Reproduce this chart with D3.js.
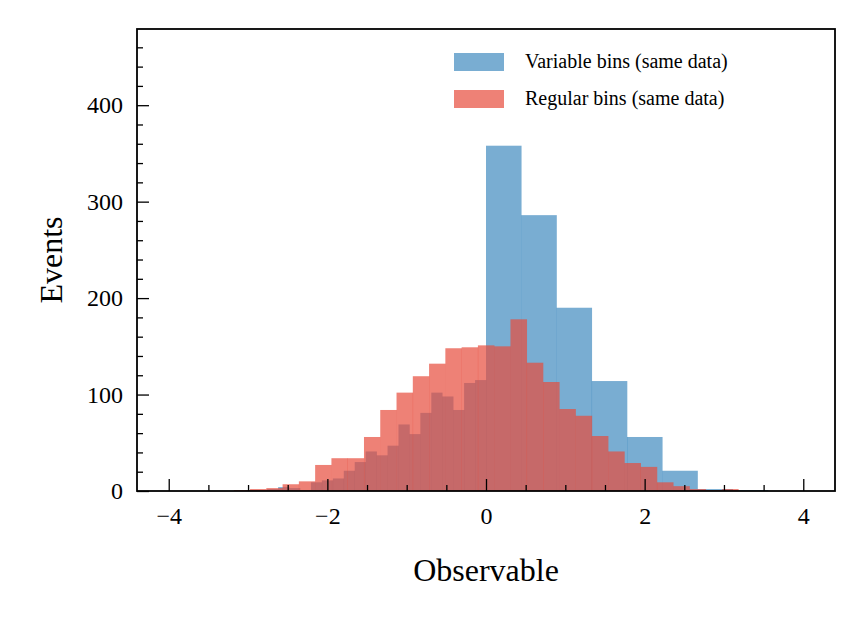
<!DOCTYPE html>
<html>
<head>
<meta charset="utf-8">
<script src="https://cdn.jsdelivr.net/npm/d3@7"></script>
<style>
  body { margin: 0; background: #fff; }
  text { font-family: "Liberation Serif", "DejaVu Serif", serif; fill: #000; }
</style>
</head>
<body>
<svg id="chart" width="864" height="619"></svg>
<script>
// Variable bins: 29 narrow bins on [-4, 0], 9 wide bins on [0, 4]
const variableEdges = [
  ...d3.range(30).map(i => -4 + i * 4 / 29),
  ...d3.range(1, 10).map(i => i * 4 / 9)
];
const variableCounts = [
  0, 0, 0, 0, 0, 0, 0, 1, 1, 2, 4, 3, 1, 9, 11, 13, 21, 30, 41, 37,
  47, 69, 59, 81, 102, 98, 84, 112, 115,
  358, 286, 190, 114, 56, 21, 2, 1, 0
];

// Regular bins: 31 bins of equal width
const regularStart = -3.18;
const regularWidth = 0.2052;
const regularCounts = [
  1, 2, 3, 7, 10, 27, 34, 34, 56, 84, 102, 119, 132, 148, 149, 151,
  150, 178, 133, 113, 85, 78, 57, 41, 29, 25, 9, 5, 2, 1, 2
];

const seriesLabels = ["Variable bins (same data)", "Regular bins (same data)"];
const xTicks = [-4, -2, 0, 2, 4];
const yTicks = [0, 100, 200, 300, 400];

const svg = d3.select("#chart");
const margin = { left: 137, right: 29, top: 29, bottom: 128 };
const width = 864 - margin.left - margin.right;
const height = 619 - margin.top - margin.bottom;
const g = svg.append("g").attr("transform", `translate(${margin.left},${margin.top})`);

const x = d3.scaleLinear().domain([-4.4, 4.4]).range([0, width]);
const y = d3.scaleLinear().domain([0, 479]).range([height, 0]);

const blueBins = variableCounts.map((c, i) => ({ x0: variableEdges[i], x1: variableEdges[i + 1], c }));
const redBins = regularCounts.map((c, i) => ({
  x0: regularStart + i * regularWidth, x1: regularStart + (i + 1) * regularWidth, c
}));

g.selectAll(".blue").data(blueBins).join("rect")
  .attr("x", d => x(d.x0)).attr("width", d => x(d.x1) - x(d.x0) + 0.3)
  .attr("y", d => y(d.c)).attr("height", d => y(0) - y(d.c))
  .attr("fill", "#1f77b4").attr("fill-opacity", 0.6);

g.selectAll(".red").data(redBins).join("rect")
  .attr("x", d => x(d.x0)).attr("width", d => x(d.x1) - x(d.x0) + 0.3)
  .attr("y", d => y(d.c)).attr("height", d => y(0) - y(d.c))
  .attr("fill", "#e74c3c").attr("fill-opacity", 0.7);

// Axes with inward ticks
const xAxis = g.append("g").attr("transform", `translate(0,${height})`)
  .call(d3.axisBottom(x).tickValues(xTicks).tickSize(-12).tickPadding(16)
    .tickFormat(d => d < 0 ? "\u2212" + Math.abs(d) : d));
g.append("g").attr("transform", `translate(0,${height})`)
  .call(d3.axisBottom(x).tickValues(d3.range(-4, 4.01, 0.5).filter(v => v % 2 !== 0)).tickSize(-6).tickFormat(""));
const yAxis = g.append("g")
  .call(d3.axisLeft(y).tickValues(yTicks).tickSize(-12).tickPadding(14));
g.append("g")
  .call(d3.axisLeft(y).tickValues(d3.range(0, 479, 20).filter(v => v % 100 !== 0)).tickSize(-6).tickFormat(""));

svg.selectAll(".domain").remove();
svg.selectAll(".tick line").attr("stroke", "#000").attr("stroke-width", 1.3);
xAxis.selectAll("text").style("font-size", "24px");
yAxis.selectAll("text").style("font-size", "24px");

g.append("rect").attr("width", width).attr("height", height)
  .attr("fill", "none").attr("stroke", "#000").attr("stroke-width", 1.8);

g.append("text").attr("x", width / 2).attr("y", height + 90)
  .attr("text-anchor", "middle").style("font-size", "32px").text("Observable");
g.append("text").attr("transform", `translate(-75,${height / 2}) rotate(-90)`)
  .attr("text-anchor", "middle").style("font-size", "32px").text("Events");

// Legend
const legendColors = [["#1f77b4", 0.6], ["#e74c3c", 0.7]];
seriesLabels.forEach((label, i) => {
  const ly = 24 + i * 37;
  g.append("rect").attr("x", 317).attr("y", ly).attr("width", 50).attr("height", 18)
    .attr("fill", legendColors[i][0]).attr("fill-opacity", legendColors[i][1]);
  g.append("text").attr("x", 388).attr("y", ly + 15).style("font-size", "20px").text(label);
});
</script>
</body>
</html>
